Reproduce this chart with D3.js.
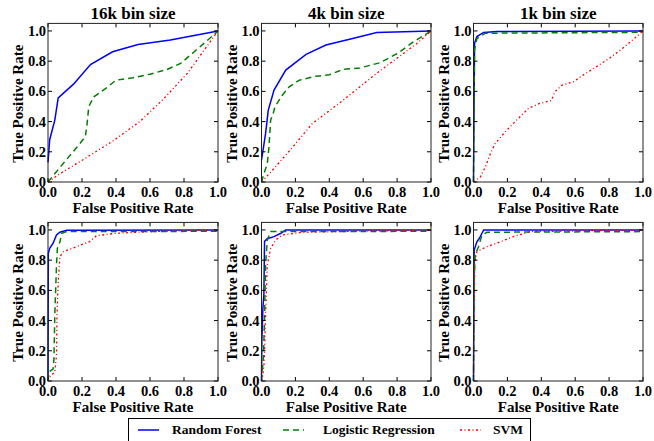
<!DOCTYPE html>
<html><head><meta charset="utf-8">
<script src="https://cdn.jsdelivr.net/npm/d3@7"></script>
<style>
body{margin:0;background:#fff;}
svg{display:block;}
</style></head>
<body>
<svg id="chart" width="654" height="441" font-family="'Liberation Serif', 'Times New Roman', Times, serif" font-weight="bold"></svg>
<script>
// ----- data -----
const titles = ["16k bin size", "4k bin size", "1k bin size", "", "", ""];
const seriesNames = ["Random Forest", "Logistic Regression", "SVM"];
const seriesColors = ["#0000ff", "#008000", "#ff0000"];
const xTicks = [0, 0.2, 0.4, 0.6, 0.8, 1.0];
const yTicks = [0, 0.2, 0.4, 0.6, 0.8, 1.0];

const rf16k = [[0,0.13],[0.01,0.28],[0.04,0.41],[0.06,0.557],[0.15,0.648],[0.25,0.778],[0.38,0.862],[0.53,0.91],[0.72,0.94],[1,1]];
const lr16k = [[0,0],[0.08,0.11],[0.17,0.23],[0.22,0.30],[0.23,0.387],[0.24,0.50],[0.27,0.564],[0.34,0.62],[0.40,0.674],[0.50,0.69],[0.60,0.714],[0.70,0.745],[0.78,0.785],[0.86,0.862],[0.93,0.93],[1,1]];
const svm16k = [[0,0],[0.07,0.055],[0.21,0.15],[0.38,0.27],[0.54,0.40],[0.68,0.55],[0.82,0.72],[0.91,0.86],[1,1]];

const rf4k = [[0,0.144],[0.024,0.32],[0.04,0.476],[0.074,0.608],[0.143,0.741],[0.263,0.845],[0.38,0.907],[0.52,0.945],[0.68,0.989],[1,1]];
const lr4k = [[0,0],[0.014,0.055],[0.034,0.12],[0.044,0.23],[0.054,0.41],[0.068,0.45],[0.08,0.50],[0.124,0.576],[0.163,0.63],[0.223,0.674],[0.32,0.70],[0.40,0.71],[0.48,0.745],[0.58,0.755],[0.70,0.79],[0.80,0.85],[0.90,0.93],[1,1]];
const svm4k = [[0,0],[0.064,0.077],[0.183,0.23],[0.30,0.387],[0.48,0.54],[0.68,0.72],[0.80,0.82],[0.92,0.92],[1,1]];

const rf1k = [[0,0],[0.006,0.918],[0.02,0.963],[0.06,0.99],[0.14,0.996],[1,1]];
const lr1k = [[0,0],[0.006,0.874],[0.02,0.95],[0.07,0.985],[0.99,0.991],[1,1]];
const svm1k = [[0,0],[0.04,0.033],[0.07,0.10],[0.10,0.188],[0.127,0.254],[0.196,0.343],[0.255,0.41],[0.324,0.487],[0.39,0.52],[0.46,0.54],[0.48,0.597],[0.52,0.64],[0.59,0.664],[0.647,0.708],[0.725,0.763],[0.80,0.818],[0.88,0.885],[0.96,0.96],[1,1]];

const rfB1 = [[0,0],[0.002,0.845],[0.01,0.878],[0.03,0.912],[0.05,0.967],[0.07,0.985],[0.11,0.998],[1,1]];
const lrB1 = [[0,0],[0.006,0.06],[0.03,0.08],[0.035,0.148],[0.04,0.436],[0.05,0.768],[0.055,0.878],[0.07,0.92],[0.08,0.978],[0.11,0.989],[0.99,0.991],[1,1]];
const svmB1 = [[0,0],[0.01,0.027],[0.04,0.06],[0.05,0.17],[0.053,0.436],[0.06,0.657],[0.07,0.823],[0.09,0.856],[0.17,0.89],[0.245,0.923],[0.285,0.962],[0.40,0.978],[0.60,0.989],[1,1]];

const rfB2 = [[0,0],[0.002,0.26],[0.008,0.48],[0.014,0.57],[0.018,0.924],[0.034,0.942],[0.074,0.956],[0.114,0.978],[0.143,1.0],[1,1]];
const lrB2 = [[0,0],[0.004,0.06],[0.012,0.17],[0.018,0.436],[0.024,0.768],[0.034,0.934],[0.054,0.989],[0.99,0.991],[1,1]];
const svmB2 = [[0,0],[0.008,0.037],[0.016,0.126],[0.024,0.436],[0.034,0.768],[0.054,0.878],[0.084,0.934],[0.124,0.967],[0.243,0.985],[1,1]];

const rfB3 = [[0,0],[0.004,0.867],[0.02,0.922],[0.035,0.945],[0.05,0.978],[0.06,1.0],[1,1]];
const lrB3 = [[0,0],[0.004,0.657],[0.01,0.834],[0.03,0.89],[0.05,0.967],[0.08,0.985],[0.99,0.989],[1,1]];
const svmB3 = [[0,0],[0.002,0.325],[0.006,0.768],[0.02,0.856],[0.08,0.89],[0.137,0.912],[0.235,0.956],[0.333,0.989],[1,1]];

const panelData = [
  [rf16k, lr16k, svm16k],
  [rf4k, lr4k, svm4k],
  [rf1k, lr1k, svm1k],
  [rfB1, lrB1, svmB1],
  [rfB2, lrB2, svmB2],
  [rfB3, lrB3, svmB3]
];

const svg = d3.select("#chart");
const colX = [[48, 218], [261.5, 431], [473.5, 643]];
const rowY = [[182, 23.4], [381, 222.4]];
const dashes = [null, "6,4", "2,2.5,1,2.5"];
const widths = [1.5, 1.5, 1.3];

panelData.forEach((curves, i) => {
  const col = i % 3, row = Math.floor(i / 3);
  const x = d3.scaleLinear().domain([0, 1]).range(colX[col]);
  const y = d3.scaleLinear().domain([0, 1.05]).range(rowY[row]);
  const g = svg.append("g");
  const left = colX[col][0], right = colX[col][1], bot = rowY[row][0], top = rowY[row][1];

  const line = d3.line().x(d => x(d[0])).y(d => y(d[1]));
  curves.forEach((c, k) => {
    g.append("path").datum(c).attr("d", line)
      .attr("fill", "none").attr("stroke", seriesColors[k])
      .attr("stroke-width", widths[k])
      .attr("stroke-dasharray", dashes[k]);
  });

  const tk = 4;
  xTicks.forEach(t => {
    g.append("line").attr("x1", x(t)).attr("x2", x(t)).attr("y1", bot).attr("y2", bot - tk).attr("stroke", "#000");
    g.append("line").attr("x1", x(t)).attr("x2", x(t)).attr("y1", top).attr("y2", top + tk).attr("stroke", "#000");
    g.append("text").attr("x", x(t)).attr("y", bot + 15).attr("text-anchor", "middle")
      .attr("font-size", 14.5).text(t.toFixed(1));
  });
  yTicks.forEach(t => {
    g.append("line").attr("x1", left).attr("x2", left + tk).attr("y1", y(t)).attr("y2", y(t)).attr("stroke", "#000");
    g.append("line").attr("x1", right).attr("x2", right - tk).attr("y1", y(t)).attr("y2", y(t)).attr("stroke", "#000");
    g.append("text").attr("x", left - 2).attr("y", y(t) + 5).attr("text-anchor", "end")
      .attr("font-size", 14.5).text(t.toFixed(1));
  });
  g.append("rect").attr("x", left).attr("y", top).attr("width", right - left).attr("height", bot - top)
    .attr("fill", "none").attr("stroke", "#222").attr("stroke-width", 1);

  g.append("text").attr("x", (left + right) / 2).attr("y", bot + 31).attr("text-anchor", "middle")
    .attr("font-size", 15).text("False Positive Rate");
  g.append("text").attr("transform", `translate(${left - 25},${(top + bot) / 2 + 1}) rotate(-90)`)
    .attr("text-anchor", "middle").attr("font-size", 15).text("True Positive Rate");
  if (titles[i]) {
    g.append("text").attr("x", (left + right) / 2).attr("y", 19).attr("text-anchor", "middle")
      .attr("font-size", 17).text(titles[i]);
  }
});

const lg = svg.append("g");
lg.append("rect").attr("x", 128.5).attr("y", 418.5).attr("width", 402).attr("height", 30)
  .attr("fill", "#fff").attr("stroke", "#000").attr("stroke-width", 1);
const legX = [138, 283, 460];
const legTX = [172, 323, 493];
seriesNames.forEach((n, k) => {
  lg.append("line").attr("x1", legX[k]).attr("x2", legX[k] + 21).attr("y1", 430).attr("y2", 430)
    .attr("stroke", seriesColors[k]).attr("stroke-width", widths[k]).attr("stroke-dasharray", dashes[k]);
  lg.append("text").attr("x", legTX[k]).attr("y", 434).attr("font-size", 13.5).text(n);
});
</script>
</body></html>
